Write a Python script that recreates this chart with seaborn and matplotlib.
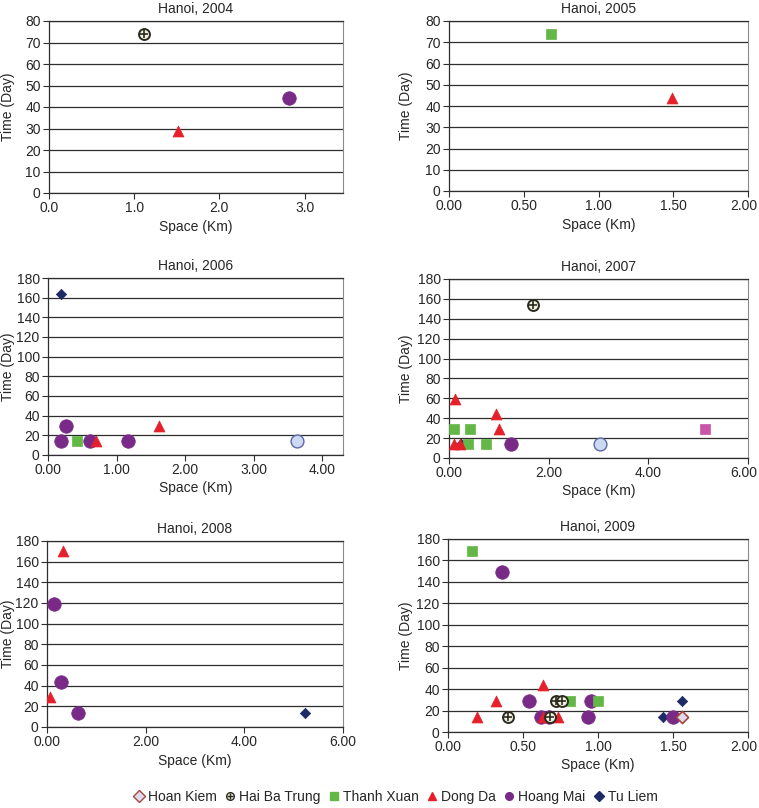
import numpy as np
import pandas as pd
import matplotlib
matplotlib.use("Agg")
import matplotlib.pyplot as plt
import matplotlib.transforms as mtransforms
import seaborn as sns
from matplotlib.lines import Line2D

sns.set_style("white")
plt.rcParams['font.family'] = ['Liberation Sans', 'DejaVu Sans']
plt.rcParams['font.size'] = 10

# values: district, space (km), time (day)
d2004 = ["Hai Ba Trung", "Dong Da", "Hoang Mai"]
x2004 = [1.12, 1.51, 2.82]
t2004 = [74, 29, 44]

d2005 = ["Thanh Xuan", "Dong Da"]
x2005 = [0.68, 1.49]
t2005 = [74, 44]

d2006 = ["Tu Liem", "Hoang Mai", "Hoang Mai", "Hoang Mai", "Hoang Mai",
         "Thanh Xuan", "Dong Da", "Dong Da", "Unlisted A"]
x2006 = [0.19, 0.26, 0.19, 0.61, 1.17, 0.42, 0.70, 1.62, 3.63]
t2006 = [164, 29, 14, 14, 14, 14, 14, 29, 14]

d2007 = ["Hai Ba Trung", "Tu Liem", "Dong Da", "Dong Da", "Dong Da", "Dong Da", "Dong Da",
         "Thanh Xuan", "Thanh Xuan", "Thanh Xuan", "Thanh Xuan",
         "Hoang Mai", "Unlisted A", "Unlisted B"]
x2007 = [1.69, 0.25, 0.13, 0.94, 1.00, 0.10, 0.22, 0.10, 0.42, 0.39, 0.74, 1.24, 3.04, 5.14]
t2007 = [154, 14, 59, 44, 29, 14, 14, 29, 29, 14, 14, 14, 14, 29]

d2008 = ["Dong Da", "Dong Da", "Hoang Mai", "Hoang Mai", "Hoang Mai", "Tu Liem"]
x2008 = [0.33, 0.06, 0.15, 0.28, 0.62, 5.22]
t2008 = [170, 29, 119, 44, 14, 14]

d2009 = ["Thanh Xuan", "Thanh Xuan", "Thanh Xuan",
         "Hoang Mai", "Hoang Mai", "Hoang Mai", "Hoang Mai", "Hoang Mai", "Hoang Mai", "Hoang Mai",
         "Dong Da", "Dong Da", "Dong Da", "Dong Da", "Dong Da",
         "Hai Ba Trung", "Hai Ba Trung", "Hai Ba Trung", "Hai Ba Trung",
         "Tu Liem", "Tu Liem", "Hoan Kiem"]
x2009 = [0.16, 0.81, 1.00,
         0.36, 0.54, 0.95, 0.62, 0.67, 0.93, 1.50,
         0.19, 0.32, 0.63, 0.63, 0.73,
         0.40, 0.72, 0.76, 0.68,
         1.43, 1.56, 1.56]
t2009 = [169, 29, 29,
         149, 29, 29, 14, 14, 14, 14,
         14, 29, 44, 14, 14,
         14, 29, 29, 14,
         14, 29, 14]

legend_names = ["Hoan Kiem", "Hai Ba Trung", "Thanh Xuan", "Dong Da", "Hoang Mai", "Tu Liem"]
draw_order = ["Unlisted A", "Unlisted B", "Tu Liem", "Hoang Mai", "Thanh Xuan", "Dong Da",
              "Hai Ba Trung", "Hoan Kiem"]

style = {
    "Hoan Kiem": dict(marker="D", color="#dcdcec", edgecolor="#a8443c", s=38, linewidth=1.2),
    "Hai Ba Trung": dict(marker="o", color="#f2f2e2", edgecolor="#2a2a1e", s=62, linewidth=1.4),
    "Thanh Xuan": dict(marker="s", color="#63b746", edgecolor="#63b746", s=62, linewidth=0.5),
    "Dong Da": dict(marker="^", color="#e5202a", edgecolor="#e5202a", s=62, linewidth=0.5),
    "Hoang Mai": dict(marker="o", color="#782a86", edgecolor="#782a86", s=95, linewidth=0.5),
    "Tu Liem": dict(marker="D", color="#1d2a66", edgecolor="#1d2a66", s=28, linewidth=0.5),
    "Unlisted A": dict(marker="o", color="#cdd8f2", edgecolor="#5a6aa0", s=85, linewidth=1.0),
    "Unlisted B": dict(marker="s", color="#c855a8", edgecolor="#c855a8", s=62, linewidth=0.5),
}

W, H = 759, 808
panels = [
    ("Hanoi, 2004", d2004, x2004, t2004, (49, 21, 343, 193), 3.45, [0, 1, 2, 3], "{:.1f}", 80, 10, 15),
    ("Hanoi, 2005", d2005, x2005, t2005, (449, 21, 748, 191), 2.0, [0, 0.5, 1, 1.5, 2], "{:.2f}", 80, 10, 413),
    ("Hanoi, 2006", d2006, x2006, t2006, (48, 278, 343, 455), 4.3, [0, 1, 2, 3, 4], "{:.2f}", 180, 20, 15),
    ("Hanoi, 2007", d2007, x2007, t2007, (449, 279, 748, 458), 6.0, [0, 2, 4, 6], "{:.2f}", 180, 20, 413),
    ("Hanoi, 2008", d2008, x2008, t2008, (47, 541, 343, 727), 6.0, [0, 2, 4, 6], "{:.2f}", 180, 20, 15),
    ("Hanoi, 2009", d2009, x2009, t2009, (448, 539, 748, 732), 2.0, [0, 0.5, 1, 1.5, 2], "{:.2f}", 180, 20, 413),
]

fig = plt.figure(figsize=(W / 100, H / 100), dpi=100)
shift_left = mtransforms.ScaledTranslation(-4 / 100, 0, fig.dpi_scale_trans)

for title, ds, xs, ts, (l, t, r, b), xmax, xticks, fmt, ymax, ystep, ylab_x in panels:
    ax = fig.add_axes([l / W, 1 - b / H, (r - l) / W, (b - t) / H])
    df = pd.DataFrame({"district": ds, "space": xs, "time": ts})
    for name in draw_order:
        sub = df[df["district"] == name]
        if len(sub) == 0:
            continue
        sns.scatterplot(data=sub, x="space", y="time", ax=ax, zorder=3, legend=False, **style[name])
        if name == "Hai Ba Trung":
            sns.scatterplot(data=sub, x="space", y="time", ax=ax, zorder=4, legend=False,
                            marker="+", color="#2a2a1e", s=40, linewidth=1.2)
    ax.set_xlim(0, xmax)
    ax.set_ylim(0, ymax)
    ax.set_xticks(xticks)
    ax.set_xticklabels([fmt.format(v) for v in xticks])
    ax.set_yticks(np.arange(0, ymax + 1, ystep))
    ax.set_axisbelow(True)
    ax.yaxis.grid(True, color="#2e2e2e", linewidth=0.9)
    ax.xaxis.grid(False)
    for sp in ["left", "bottom", "top"]:
        ax.spines[sp].set_color("#2e2e2e")
        ax.spines[sp].set_linewidth(0.9)
    ax.spines["right"].set_color("#8a8a8a")
    ax.tick_params(axis="both", direction="out", length=4, width=0.8, color="#2e2e2e",
                   labelsize=10, pad=2, left=True, bottom=True)
    ax.set_title(title, fontsize=10, pad=6)
    ax.set_xlabel("Space (Km)", fontsize=10, labelpad=3)
    ax.set_ylabel("Time (Day)", fontsize=10)
    ax.yaxis.set_label_coords((ylab_x - l) / (r - l), 0.5)
    if r > 740:
        last = ax.get_xticklabels()[-1]
        last.set_transform(last.get_transform() + shift_left)

handles = []
for name in legend_names:
    st = style[name]
    h = Line2D([], [], linestyle="none", marker=st["marker"], markerfacecolor=st["color"],
               markeredgecolor=st["edgecolor"], markersize=5.5 if name != "Hoan Kiem" else 6,
               markeredgewidth=1.0)
    if name == "Hai Ba Trung":
        h = (h, Line2D([], [], linestyle="none", marker="+", color="#2a2a1e", markersize=5))
    handles.append(h)

fig.legend(handles, legend_names, loc="center", bbox_to_anchor=(396 / W, 1 - 797 / H),
           ncol=6, frameon=False, fontsize=10, handlelength=0.7, handletextpad=0.3,
           columnspacing=0.6)

fig.savefig("out.png", dpi=100)
